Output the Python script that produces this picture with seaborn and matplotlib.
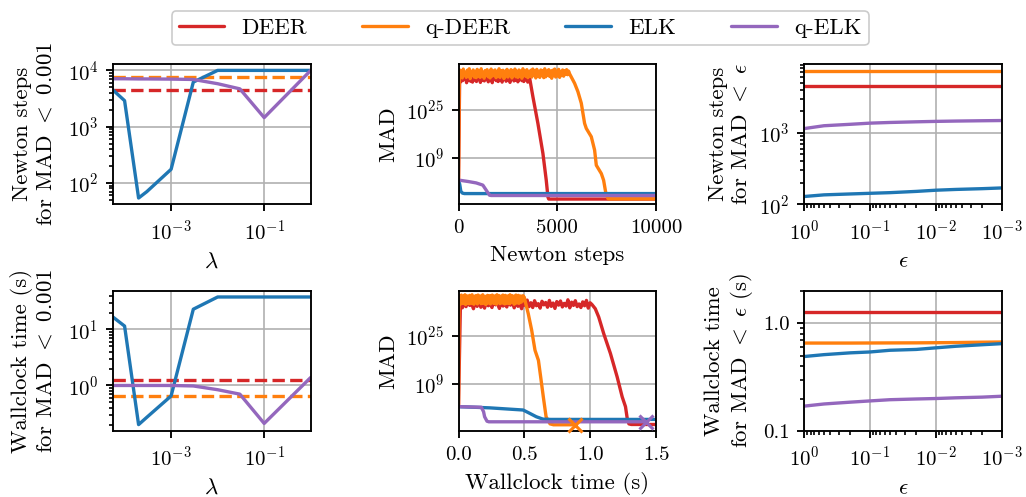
import numpy as np
import matplotlib
matplotlib.use("Agg")
import matplotlib.pyplot as plt
import matplotlib.ticker as mticker
from matplotlib.lines import Line2D
import seaborn as sns

# ---------------- data ----------------
methods = ["DEER", "q-DEER", "ELK", "q-ELK"]
colors = {"DEER": "#d62728", "q-DEER": "#ff7f0e", "ELK": "#1f77b4", "q-ELK": "#9467bd"}

# panel (a): sweep over lambda
lambdas = [5.6e-5, 1e-4, 2e-4, 3e-4, 1e-3, 3e-3, 1e-2, 3e-2, 1e-1, 1.0]
elk_steps_lam = [4500, 2900, 54, 70, 175, 6200, 10000, 10000, 10000, 10000]
qelk_steps_lam = [7100, 7100, 7050, 7050, 7000, 6900, 5800, 4700, 1450, 10000]
deer_steps_ref = 4500
qdeer_steps_ref = 7500
elk_time_lam = [16.7, 11.5, 0.20, 0.27, 0.65, 23.0, 38.0, 38.0, 38.0, 38.0]
qelk_time_lam = [1.0, 1.0, 1.0, 1.0, 1.0, 0.98, 0.84, 0.70, 0.21, 1.39]
deer_time_ref = 1.26
qdeer_time_ref = 0.65

# panel (b): MAD trajectories (log10 MAD), plateau oscillations
red_noise = [36.8, 34.5, 36.2, 34.9, 37.1, 35.3, 36.0, 34.2, 36.6, 35.0, 37.0, 34.7,
             35.9, 34.4, 36.9, 35.2, 36.3, 34.6, 37.2, 35.5, 36.1, 34.3, 36.7, 35.1,
             35.8, 34.8, 37.0, 35.4, 36.4, 34.5, 36.8, 35.0, 36.0, 34.2, 36.5, 35.3,
             37.1, 34.9, 36.2, 34.6, 36.9, 35.2, 35.9, 34.4, 36.7, 35.5, 36.3, 34.7,
             37.0, 35.0, 36.1, 34.3, 36.6, 35.4, 36.8, 34.8, 36.0, 35.1, 37.2, 34.5,
             36.4, 35.3, 36.9, 34.9, 35.8, 34.6, 36.5, 35.2, 37.0, 34.4, 36.2, 35.6]
orange_noise = [38.6, 36.3, 38.1, 35.8, 38.8, 36.7, 37.6, 36.0, 38.4, 36.4, 38.9, 35.6,
                38.0, 36.8, 38.5, 36.1, 37.8, 35.9, 38.7, 36.5, 38.2, 36.0, 38.9, 36.6,
                37.7, 35.7, 38.3, 36.9, 38.6, 36.2, 37.9, 35.8, 38.8, 36.4, 38.1, 36.7,
                38.5, 35.9, 37.6, 36.3, 38.9, 36.0, 38.2, 36.8, 38.4, 35.6, 38.0, 36.5,
                38.7, 36.1, 37.8, 36.6, 38.6, 35.8, 38.3, 36.9, 38.8, 36.2, 37.7, 36.0,
                38.5, 36.4, 38.1, 35.7, 38.9, 36.7, 38.0, 36.3, 38.6, 35.9, 37.9, 36.5,
                38.4, 36.1, 38.8, 36.8, 38.2, 35.8, 38.7, 36.4, 37.6, 36.0, 38.5, 36.6,
                38.3, 35.9, 38.9, 36.2, 37.8, 36.7, 38.6, 36.3, 38.1, 35.7, 38.4, 36.9,
                38.8, 36.1, 38.0, 36.5, 38.7, 36.0, 37.9, 36.8, 38.5, 36.4, 38.2, 37.0,
                38.6, 36.9, 38.1, 37.2]
init_exp = 1.3

# DEER decline (Newton steps / wallclock) and floor
deer_dec_steps = [3760, 4013, 4266, 4435, 4520, 4560, 10000]
deer_dec_exp_n = [29.5, 20.5, 10.4, 1.35, -4.3, -5.0, -5.0]
deer_dec_time = [1.037, 1.063, 1.101, 1.152, 1.203, 1.241, 1.266, 1.279, 1.292, 1.31, 1.6]
deer_dec_exp_t = [34.2, 31.4, 25.8, 19.1, 11.2, 4.5, 1.2, -2.7, -4.6, -4.8, -4.8]

qdeer_dec_steps = [5868, 6035, 6206, 6373, 6459, 6712, 6879, 6965, 7218, 7334, 7436, 7553, 7600, 10000]
qdeer_dec_exp_n = [34.0, 31.2, 27.3, 20.5, 18.8, 16.0, 11.5, 6.4, 3.6, 1.35, -2.6, -4.8, -4.95, -4.95]
qdeer_dec_time = [0.529, 0.555, 0.580, 0.606, 0.623, 0.643, 0.664, 0.694, 0.72, 0.885]
qdeer_dec_exp_t = [32.5, 26.9, 20.2, 16.8, 11.2, 4.5, -2.2, -4.6, -4.9, -4.9]

elk_traj_steps = [0, 60, 118, 200, 300, 10000]
elk_traj_exp_n = [1.3, 0.0, -2.4, -3.0, -3.15, -3.15]
elk_traj_time = [0.0, 0.236, 0.49, 0.54, 0.59, 0.64, 0.70, 1.6]
elk_traj_exp_t = [1.2, 0.8, 0.07, -1.05, -2.2, -3.0, -3.1, -3.1]

qelk_traj_steps = [0, 500, 893, 1230, 1400, 1568, 1650, 10000]
qelk_traj_exp_n = [1.4, 0.9, 0.44, -0.3, -2.0, -3.7, -3.8, -3.8]
qelk_traj_time = [0.0, 0.173, 0.19, 0.198, 0.216, 0.23, 1.42]
qelk_traj_exp_t = [1.2, 1.0, -0.5, -2.2, -3.7, -3.9, -3.9]

# panel (c): sweep over epsilon
eps = [1, 0.5, 0.2, 0.1, 0.05, 0.02, 0.01, 0.005, 0.002, 0.001]
deer_steps_eps = [4520] * 10
qdeer_steps_eps = [7450] * 10
elk_steps_eps = [129, 136, 140, 143, 146, 152, 158, 162, 166, 170]
qelk_steps_eps = [1150, 1260, 1320, 1370, 1400, 1430, 1450, 1465, 1480, 1490]
deer_time_eps = [1.26] * 10
qdeer_time_eps = [0.653, 0.653, 0.653, 0.654, 0.655, 0.656, 0.658, 0.66, 0.665, 0.668]
elk_time_eps = [0.49, 0.51, 0.53, 0.54, 0.56, 0.57, 0.59, 0.61, 0.63, 0.645]
qelk_time_eps = [0.17, 0.178, 0.185, 0.19, 0.195, 0.198, 0.20, 0.203, 0.206, 0.21]

# ---------------- style ----------------
sns.set_theme(context="paper", style="ticks")
plt.rcParams.update({
    "font.family": "serif",
    "font.serif": ["cmr10"],
    "mathtext.fontset": "cm",
    "axes.formatter.use_mathtext": True,
    "axes.unicode_minus": True,
    "axes.edgecolor": "black",
    "axes.linewidth": 0.9,
    "xtick.color": "black",
    "ytick.color": "black",
    "text.color": "black",
    "axes.labelcolor": "black",
    "axes.labelsize": 11,
    "xtick.labelsize": 10,
    "ytick.labelsize": 10,
    "xtick.major.size": 3.5,
    "ytick.major.size": 3.5,
    "xtick.minor.size": 2,
    "ytick.minor.size": 2,
    "xtick.major.width": 0.9,
    "ytick.major.width": 0.9,
    "grid.color": "#b0b0b0",
    "grid.linewidth": 0.8,
})

LW = 1.6
fig, axes = plt.subplots(2, 3, figsize=(1026 / 150, 497 / 150), dpi=150)
fig.subplots_adjust(left=0.110, right=0.9766, top=0.8712, bottom=0.1328, wspace=0.747, hspace=0.614)


def line(ax, x, y, c, **kw):
    sns.lineplot(x=x, y=y, ax=ax, color=c, lw=LW, sort=False, estimator=None, **kw)


# ---- (0,0) and (1,0): lambda sweep
for row, (elk, qelk, dref, qdref, ylab) in enumerate([
        (elk_steps_lam, qelk_steps_lam, deer_steps_ref, qdeer_steps_ref, "Newton steps\nfor MAD $<$ 0.001"),
        (elk_time_lam, qelk_time_lam, deer_time_ref, qdeer_time_ref, "Wallclock time (s)\nfor MAD $<$ 0.001")]):
    ax = axes[row, 0]
    xr = [lambdas[0], lambdas[-1]]
    line(ax, xr, [dref, dref], colors["DEER"], linestyle="--")
    line(ax, xr, [qdref, qdref], colors["q-DEER"], linestyle="--")
    line(ax, lambdas, elk, colors["ELK"])
    line(ax, lambdas, qelk, colors["q-ELK"])
    ax.set_xscale("log")
    ax.set_yscale("log")
    ax.set_xlim(lambdas[0], lambdas[-1])
    ax.xaxis.set_major_locator(mticker.FixedLocator([1e-3, 1e-1]))
    ax.xaxis.set_minor_locator(mticker.NullLocator())
    ax.set_xlabel(r"$\lambda$")
    ax.set_ylabel(ylab, labelpad=6)

# ---- (0,1) and (1,1): trajectories
ax = axes[0, 1]
red_steps = [0] + list(np.linspace(60, 3600, len(red_noise))) + deer_dec_steps
red_exp = [init_exp] + red_noise + deer_dec_exp_n
org_steps = [0] + list(np.linspace(40, 5615, len(orange_noise))) + qdeer_dec_steps
org_exp = [init_exp] + orange_noise + qdeer_dec_exp_n
line(ax, red_steps, [10.0 ** e for e in red_exp], colors["DEER"])
line(ax, org_steps, [10.0 ** e for e in org_exp], colors["q-DEER"])
line(ax, elk_traj_steps, [10.0 ** e for e in elk_traj_exp_n], colors["ELK"])
line(ax, qelk_traj_steps, [10.0 ** e for e in qelk_traj_exp_n], colors["q-ELK"])
ax.set_xlim(0, 10000)
ax.set_ylim(10.0 ** -6.8, 10.0 ** 40.5)
ax.set_xlabel("Newton steps")

ax = axes[1, 1]
red_t = [0.0] + list(np.linspace(0.015, 1.012, len(red_noise))) + deer_dec_time
red_exp_t = [init_exp] + red_noise + deer_dec_exp_t
org_t = [0.0] + list(np.linspace(0.004, 0.503, len(orange_noise))) + qdeer_dec_time
org_exp_t = [init_exp] + orange_noise + qdeer_dec_exp_t
line(ax, red_t, [10.0 ** e for e in red_exp_t], colors["DEER"])
line(ax, org_t, [10.0 ** e for e in org_exp_t], colors["q-DEER"])
line(ax, elk_traj_time, [10.0 ** e for e in elk_traj_exp_t], colors["ELK"])
line(ax, qelk_traj_time, [10.0 ** e for e in qelk_traj_exp_t], colors["q-ELK"])
ax.plot([qdeer_dec_time[-1]], [10.0 ** qdeer_dec_exp_t[-1]], marker="x", ms=7, mew=1.5,
        color=colors["q-DEER"], clip_on=False, zorder=5)
ax.plot([qelk_traj_time[-1]], [10.0 ** qelk_traj_exp_t[-1]], marker="x", ms=7, mew=1.5,
        color=colors["q-ELK"], clip_on=False, zorder=5)
ax.set_xlim(0, 1.5)
ax.set_ylim(10.0 ** -7.0, 10.0 ** 40.3)
ax.xaxis.set_major_locator(mticker.FixedLocator([0.0, 0.5, 1.0, 1.5]))
ax.xaxis.set_major_formatter(mticker.FormatStrFormatter("%.1f"))
ax.set_xlabel("Wallclock time (s)")

for ax in axes[:, 1]:
    ax.set_yscale("log")
    ax.yaxis.set_major_locator(mticker.FixedLocator([1e9, 1e25]))
    ax.yaxis.set_minor_locator(mticker.NullLocator())
    ax.set_ylabel("MAD")
axes[0, 1].xaxis.set_major_locator(mticker.FixedLocator([0, 5000, 10000]))
axes[0, 1].xaxis.set_major_formatter(mticker.FormatStrFormatter("%d"))

# ---- (0,2) and (1,2): epsilon sweep
for row, series, ylab in [
        (0, [deer_steps_eps, qdeer_steps_eps, elk_steps_eps, qelk_steps_eps], "Newton steps\nfor MAD $<$ $\\epsilon$"),
        (1, [deer_time_eps, qdeer_time_eps, elk_time_eps, qelk_time_eps], "Wallclock time\nfor MAD $<$ $\\epsilon$ (s)")]:
    ax = axes[row, 2]
    for m, s in zip(methods, series):
        line(ax, eps, s, colors[m])
    ax.set_xscale("log")
    ax.set_yscale("log")
    ax.set_xlim(1, 1e-3)
    ax.xaxis.set_major_locator(mticker.FixedLocator([1, 1e-1, 1e-2, 1e-3]))
    ax.xaxis.set_minor_locator(mticker.LogLocator(base=10, subs=np.arange(2, 10), numticks=20))
    ax.set_xlabel(r"$\epsilon$")
    ax.set_ylabel(ylab)
axes[0, 2].set_ylim(100, 9200)
axes[1, 2].set_ylim(0.1, 2.0)
axes[1, 2].yaxis.set_major_locator(mticker.FixedLocator([0.1, 1.0]))
axes[1, 2].yaxis.set_major_formatter(mticker.FixedFormatter(["0.1", "1.0"]))
axes[1, 2].yaxis.set_minor_locator(mticker.LogLocator(base=10, subs=np.arange(2, 10), numticks=20))
axes[1, 2].yaxis.set_minor_formatter(mticker.NullFormatter())

for ax in axes.flat:
    ax.grid(True, which="major")
    ax.set_axisbelow(True)
    for sp in ax.spines.values():
        sp.set_visible(True)
        sp.set_color("black")

handles = [Line2D([0], [0], color=colors[m], lw=LW) for m in methods]
fig.legend(handles, methods, loc="upper center", bbox_to_anchor=(0.507, 1.0), ncol=4,
           fontsize=11, frameon=True, fancybox=True, edgecolor="0.8", framealpha=1.0,
           columnspacing=2.4, handlelength=2.0, handletextpad=0.75, borderpad=0.3)

fig.savefig("out.png", dpi=150)
